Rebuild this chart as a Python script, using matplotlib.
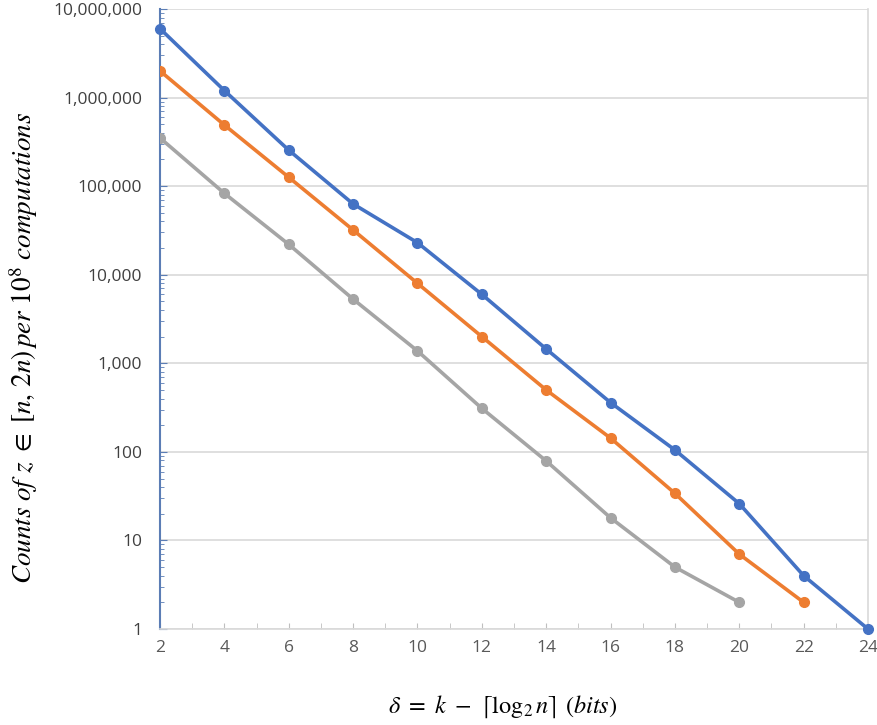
import numpy as np
import matplotlib.pyplot as plt
from matplotlib.ticker import FixedLocator, FuncFormatter, LogLocator, NullFormatter

# 数据
delta_blue = [2, 4, 6, 8, 10, 12, 14, 16, 18, 20, 22, 24]
counts_blue = [6.0e6, 1.2e6, 2.55e5, 6.3e4, 2.3e4, 6000, 1450, 360, 105, 26, 4, 1]

delta_orange = [2, 4, 6, 8, 10, 12, 14, 16, 18, 20, 22]
counts_orange = [2.0e6, 4.9e5, 1.26e5, 3.2e4, 8000, 2000, 500, 143, 34, 7, 2]

delta_gray = [2, 4, 6, 8, 10, 12, 14, 16, 18, 20]
counts_gray = [3.5e5, 8.3e4, 2.2e4, 5300, 1380, 310, 79, 18, 5, 2]

x_ticks = [2, 4, 6, 8, 10, 12, 14, 16, 18, 20, 22, 24]
y_ticks = [1, 10, 100, 1e3, 1e4, 1e5, 1e6, 1e7]

plt.rcParams['mathtext.fontset'] = 'stix'

fig = plt.figure(figsize=(8.78, 7.25), dpi=100)
ax = fig.add_axes([160/878, 1 - 629/725, 708/878, 620/725])

ax.plot(delta_gray, counts_gray, color='#A5A5A5', lw=2.6, marker='o', ms=7, zorder=3)
ax.plot(delta_orange, counts_orange, color='#ED7D31', lw=2.6, marker='o', ms=7, zorder=3)
ax.plot(delta_blue, counts_blue, color='#4472C4', lw=2.6, marker='o', ms=7, zorder=4, clip_on=False)

ax.set_yscale('log')
ax.set_xlim(2, 24)
ax.set_ylim(1, 1e7)

ax.xaxis.set_major_locator(FixedLocator(x_ticks))
ax.xaxis.set_minor_locator(FixedLocator(range(3, 24, 2)))
ax.yaxis.set_major_locator(FixedLocator(y_ticks))
ax.yaxis.set_minor_locator(LogLocator(base=10, subs=np.arange(2, 10)))
ax.yaxis.set_minor_formatter(NullFormatter())
ax.yaxis.set_major_formatter(FuncFormatter(lambda v, p: f'{int(round(v)):,}'))

ax.grid(axis='y', which='major', color='#D9D9D9', lw=1.2)
ax.set_axisbelow(True)

ax.spines['top'].set_visible(False)
ax.spines['right'].set_color('#D9D9D9')
ax.spines['bottom'].set_color('#D9D9D9')
ax.spines['left'].set_color('#5B7DB5')
ax.spines['left'].set_linewidth(1.5)
ax.spines['bottom'].set_linewidth(1.2)
ax.spines['right'].set_linewidth(1.2)

ax.tick_params(axis='x', which='both', direction='in', length=4, color='#BFBFBF',
               labelsize=12.5, labelcolor='#595959', pad=8)
ax.tick_params(axis='y', which='major', direction='in', length=5, color='#5B7DB5',
               labelsize=12.5, labelcolor='#404040', pad=13)
ax.tick_params(axis='y', which='minor', direction='in', length=3, color='#5B7DB5')
for lab in ax.get_xticklabels() + ax.get_yticklabels():
    lab.set_fontfamily('Open Sans')

fig.text(503/878, 1 - 707/725, r'$\delta\ =\ k\ -\ \lceil \log_2 n \rceil\ (bits)$',
         ha='center', va='center', fontsize=17.5)
fig.text(24/878, 1 - 348/725,
         r'$Counts\ of\ z\ \in\ [n,\, 2n)\, per\ 10^8\ computations$',
         ha='center', va='center', rotation=90, fontsize=19.5)

fig.savefig('out.png', dpi=100)
